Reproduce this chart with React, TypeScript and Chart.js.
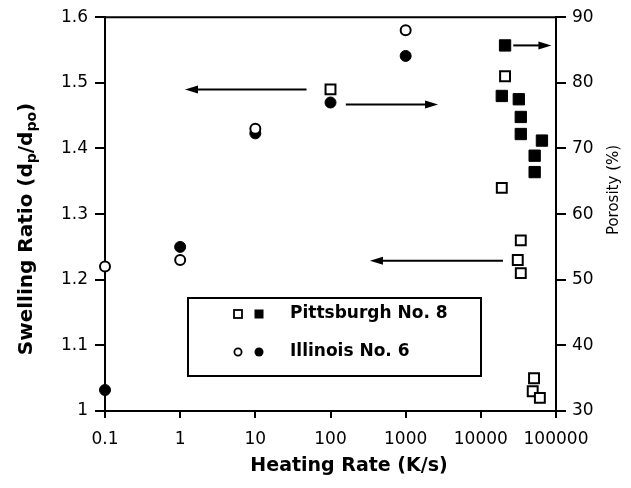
import React, { useEffect, useRef } from 'react';
import { Chart, registerables } from 'chart.js';

Chart.register(...registerables);

// ---- axis ticks ----
const xTickValues = [0.1, 1, 10, 100, 1000, 10000, 100000];
const xTickLabels = ['0.1', '1', '10', '100', '1000', '10000', '100000'];
const srTickValues = [1, 1.1, 1.2, 1.3, 1.4, 1.5, 1.6];
const srTickLabels = ['1', '1.1', '1.2', '1.3', '1.4', '1.5', '1.6'];
const porTickValues = [30, 40, 50, 60, 70, 80, 90];
const porTickLabels = ['30', '40', '50', '60', '70', '80', '90'];

// ---- series (heating rate in K/s) ----
// Pittsburgh No. 8 – swelling ratio (open squares, left axis)
const pittSwellX = [100, 21000, 19000, 34000, 31000, 34000, 51000, 49000, 61000];
const pittSwellY = [1.49, 1.51, 1.34, 1.26, 1.23, 1.21, 1.05, 1.03, 1.02];
// Pittsburgh No. 8 – porosity (filled squares, right axis)
const pittPorX = [21000, 19000, 32000, 34000, 34000, 65000, 52000, 52000];
const pittPorY = [85.7, 78.0, 77.5, 74.8, 72.2, 71.2, 68.9, 66.4];
// Illinois No. 6 – swelling ratio (open circles, left axis)
const illSwellX = [0.1, 1, 10, 1000];
const illSwellY = [1.22, 1.23, 1.43, 1.58];
// Illinois No. 6 – porosity (filled circles, right axis)
const illPorX = [0.1, 1, 10, 100, 1000];
const illPorY = [33.2, 55.0, 72.3, 77.0, 84.1];

// ---- annotation arrows (data coordinates) ----
const arrowFromX = [48, 160, 19700, 27000];
const arrowToX = [1.16, 2700, 335, 87000];
const arrowY = [1.49, 76.7, 1.229, 85.7];
const arrowAxis = ['y', 'y2', 'y', 'y2'];

const FONT = 'DejaVu Sans';

const toPts = (xs: number[], ys: number[]) => xs.map((x, i) => ({ x, y: ys[i] }));

const overlay = {
  id: 'overlay',
  beforeDatasetsDraw(chart: any) {
    const ctx = chart.ctx;
    const xs = chart.scales.x;
    ctx.save();
    ctx.strokeStyle = '#000';
    ctx.fillStyle = '#000';
    ctx.lineWidth = 2;
    for (let i = 0; i < arrowFromX.length; i++) {
      const ys = chart.scales[arrowAxis[i]];
      const x1 = xs.getPixelForValue(arrowFromX[i]);
      const x2 = xs.getPixelForValue(arrowToX[i]);
      const y = ys.getPixelForValue(arrowY[i]);
      const dir = Math.sign(x2 - x1);
      ctx.beginPath();
      ctx.moveTo(x1, y);
      ctx.lineTo(x2 - dir * 8, y);
      ctx.stroke();
      ctx.beginPath();
      ctx.moveTo(x2, y);
      ctx.lineTo(x2 - dir * 13, y - 4);
      ctx.lineTo(x2 - dir * 13, y + 4);
      ctx.closePath();
      ctx.fill();
    }
    ctx.restore();
  },
  afterDraw(chart: any) {
    const ctx = chart.ctx;
    const { left, right, top } = chart.chartArea;
    ctx.save();
    // top frame line
    ctx.strokeStyle = '#000';
    ctx.lineWidth = 2;
    ctx.beginPath();
    ctx.moveTo(left - 1, top);
    ctx.lineTo(right + 1, top);
    ctx.stroke();

    // legend box
    const bx = 188, by = 298, bw = 293, bh = 78;
    ctx.lineWidth = 2;
    ctx.strokeRect(bx, by, bw, bh);
    const rows = [
      { y: by + 16, label: 'Pittsburgh No. 8', shape: 'rect' },
      { y: by + 54, label: 'Illinois No. 6', shape: 'circle' },
    ];
    rows.forEach((r) => {
      const cx1 = 238, cx2 = 259;
      ctx.lineWidth = 1.8;
      if (r.shape === 'rect') {
        ctx.fillStyle = '#fff';
        ctx.fillRect(cx1 - 4, r.y - 4, 8, 8);
        ctx.strokeRect(cx1 - 4, r.y - 4, 8, 8);
        ctx.fillStyle = '#000';
        ctx.fillRect(cx2 - 4.5, r.y - 4.5, 9, 9);
      } else {
        ctx.beginPath();
        ctx.arc(cx1, r.y, 3.6, 0, Math.PI * 2);
        ctx.fillStyle = '#fff';
        ctx.fill();
        ctx.stroke();
        ctx.beginPath();
        ctx.arc(cx2, r.y, 4.5, 0, Math.PI * 2);
        ctx.fillStyle = '#000';
        ctx.fill();
      }
      ctx.fillStyle = '#000';
      ctx.font = `bold 17px "${FONT}"`;
      ctx.textAlign = 'left';
      ctx.textBaseline = 'middle';
      ctx.fillText(r.label, 290, r.y);
    });

    // x title
    ctx.fillStyle = '#000';
    ctx.font = `bold 19px "${FONT}"`;
    ctx.textAlign = 'center';
    ctx.textBaseline = 'middle';
    ctx.fillText('Heating Rate (K/s)', 349, 466);

    // left title with subscripts
    const parts = [
      { t: 'Swelling Ratio (d', sub: false },
      { t: 'p', sub: true },
      { t: '/d', sub: false },
      { t: 'po', sub: true },
      { t: ')', sub: false },
    ];
    const mainF = `bold 20px "${FONT}"`;
    const subF = `bold 14px "${FONT}"`;
    let total = 0;
    parts.forEach((p) => {
      ctx.font = p.sub ? subF : mainF;
      total += ctx.measureText(p.t).width;
    });
    ctx.save();
    ctx.translate(27, 229);
    ctx.rotate(-Math.PI / 2);
    ctx.textAlign = 'left';
    ctx.textBaseline = 'middle';
    let px = -total / 2;
    parts.forEach((p) => {
      ctx.font = p.sub ? subF : mainF;
      ctx.fillText(p.t, px, p.sub ? 5 : 0);
      px += ctx.measureText(p.t).width;
    });
    ctx.restore();

    // right title (reads bottom to top)
    ctx.save();
    ctx.translate(614, 190);
    ctx.rotate(-Math.PI / 2);
    ctx.font = `15px "${FONT}"`;
    ctx.textAlign = 'center';
    ctx.textBaseline = 'middle';
    ctx.fillText('Porosity (%)', 0, 0);
    ctx.restore();

    ctx.restore();
  },
};

const tickFont = { family: FONT, size: 17 };

export default function App() {
  const ref = useRef<HTMLCanvasElement>(null);
  useEffect(() => {
    const chart = new Chart(ref.current as HTMLCanvasElement, {
      type: 'scatter',
      data: {
        datasets: [
          {
            label: 'Pittsburgh No. 8 swelling ratio',
            data: toPts(pittSwellX, pittSwellY),
            yAxisID: 'y',
            pointStyle: 'rect',
            pointRadius: 7,
            backgroundColor: '#fff',
            borderColor: '#000',
            borderWidth: 2,
            clip: false,
          },
          {
            label: 'Illinois No. 6 swelling ratio',
            data: toPts(illSwellX, illSwellY),
            yAxisID: 'y',
            pointStyle: 'circle',
            pointRadius: 5,
            backgroundColor: '#fff',
            borderColor: '#000',
            borderWidth: 2,
            clip: false,
          },
          {
            label: 'Pittsburgh No. 8 porosity',
            data: toPts(pittPorX, pittPorY),
            yAxisID: 'y2',
            pointStyle: 'rect',
            pointRadius: 8,
            backgroundColor: '#000',
            borderColor: '#000',
            borderWidth: 1,
            clip: false,
          },
          {
            label: 'Illinois No. 6 porosity',
            data: toPts(illPorX, illPorY),
            yAxisID: 'y2',
            pointStyle: 'circle',
            pointRadius: 5.5,
            backgroundColor: '#000',
            borderColor: '#000',
            borderWidth: 1,
            clip: false,
          },
        ],
      },
      options: {
        responsive: false,
        animation: false,
        layout: { padding: { top: 16, left: 0, right: 0, bottom: 0 } },
        plugins: { legend: { display: false }, tooltip: { enabled: false } },
        events: [],
        scales: {
          x: {
            type: 'logarithmic',
            position: 'bottom',
            min: 0.1,
            max: 100000,
            afterBuildTicks: (s: any) => {
              s.ticks = xTickValues.map((v) => ({ value: v }));
            },
            afterFit: (s: any) => {
              s.height = 77;
            },
            ticks: {
              autoSkip: false,
              maxRotation: 0,
              minRotation: 0,
              color: '#000',
              font: tickFont,
              padding: 11,
              callback: (_v: any, i: number) => xTickLabels[i],
            },
            grid: { drawOnChartArea: false, drawTicks: true, tickLength: 7, color: '#000', lineWidth: 2 },
            border: { display: true, color: '#000', width: 2 },
          },
          y: {
            type: 'linear',
            position: 'left',
            min: 1,
            max: 1.6,
            afterBuildTicks: (s: any) => {
              s.ticks = srTickValues.map((v) => ({ value: v }));
            },
            afterFit: (s: any) => {
              s.width = 105;
            },
            ticks: {
              color: '#000',
              font: tickFont,
              padding: 7,
              callback: (_v: any, i: number) => srTickLabels[i],
            },
            grid: { drawOnChartArea: false, drawTicks: true, tickLength: 10, color: '#000', lineWidth: 2 },
            border: { display: true, color: '#000', width: 2 },
          },
          y2: {
            type: 'linear',
            position: 'right',
            min: 30,
            max: 90,
            afterBuildTicks: (s: any) => {
              s.ticks = porTickValues.map((v) => ({ value: v }));
            },
            afterFit: (s: any) => {
              s.width = 75;
            },
            ticks: {
              color: '#000',
              font: tickFont,
              padding: 6,
              callback: (_v: any, i: number) => porTickLabels[i],
            },
            grid: { drawOnChartArea: false, drawTicks: true, tickLength: 10, color: '#000', lineWidth: 2 },
            border: { display: true, color: '#000', width: 2 },
          },
        },
      },
      plugins: [overlay],
    } as any);
    return () => chart.destroy();
  }, []);
  return (
    <div style={{ position: 'absolute', left: 0, top: 0, width: 631, height: 488, background: '#fff' }}>
      <canvas ref={ref} width={631} height={488} style={{ display: 'block', width: 631, height: 488 }} />
    </div>
  );
}
